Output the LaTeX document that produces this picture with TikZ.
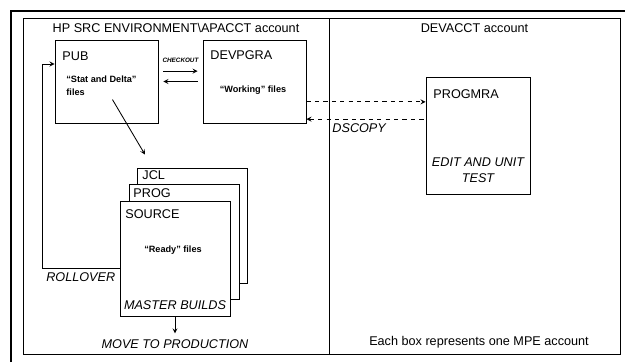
\documentclass[tikz,border=0pt]{standalone}
\usepackage{fontspec}
\setmainfont{Liberation Sans}
\usetikzlibrary{positioning}

\tikzset{
  acct/.style={draw,line width=0.6pt,inner sep=0pt,minimum height=8.4cm},
  dirbox/.style={draw,fill=white,line width=0.6pt,inner sep=0pt,minimum width=2.575cm,minimum height=2.075cm},
  libbox/.style={draw,fill=white,line width=0.6pt,inner sep=0pt,minimum width=2.75cm,minimum height=2.875cm},
  lbl/.style={font=\fontsize{9}{10}\selectfont,inner sep=0pt},
  ital/.style={font=\itshape\fontsize{9}{11.4}\selectfont,inner sep=0pt},
  note/.style={font=\bfseries\fontsize{6.5}{9}\selectfont,inner sep=0pt},
}

\begin{document}
\begin{tikzpicture}[x=0.025cm,y=-0.025cm,>=stealth,line width=0.6pt]
  \useasboundingbox (0,0) rectangle (625,362);
  \draw[line width=1.6pt] (11,362) -- (11,11) -- (625,11);

  % accounts
  \node[acct,minimum width=7.65cm] (hpsrc) at (176,186) {};
  \node[acct,minimum width=7.275cm] (devacct) at (474.5,186) {};
  \node[lbl] (hpsrctitle) at (176,28) {HP SRC ENVIRONMENT\textbackslash APACCT account};
  \node[lbl] (devaccttitle) at (474.5,28) {DEVACCT account};
  \node[lbl] (legend) at (479,342) {Each box represents one MPE account};

  % groups
  \node[dirbox] (pub) at (106.5,81.5) {};
  \node[dirbox] (devpgra) at (254.5,81.5) {};
  \node[dirbox,minimum width=2.6cm,minimum height=2.925cm] (progmra) at (478,135.5) {};
  \node[libbox] (jcl) at (192,225.5) {};
  \node[libbox] (prog) at (184,241.5) {};
  \node[libbox] (source) at (175,258.5) {};

  \node[lbl,anchor=west] (pubname) at (62,56) {PUB};
  \node[lbl,anchor=west] (devpgraname) at (210,55) {DEVPGRA};
  \node[lbl,anchor=west] (progmraname) at (433,94) {PROGMRA};
  \node[lbl,anchor=west] (jclname) at (142,175) {JCL};
  \node[lbl,anchor=west] (progname) at (133,193) {PROG};
  \node[lbl,anchor=west] (sourcename) at (125,214) {SOURCE};

  \node[note,anchor=west,align=left] (stat) at (66,85.5) {``Stat and Delta''\\files};
  \node[note] (working) at (253,90) {``Working'' files};
  \node[note] (ready) at (173,250) {``Ready'' files};
  \node[ital] (master) at (175,305) {MASTER BUILDS};
  \node[ital,align=center] (edit) at (478,170) {EDIT AND UNIT\\TEST};

  % checkout
  \draw[->,shorten <=3.5pt,shorten >=3.5pt] ([yshift=2.6mm]pub.east) -- node[above=6pt,font=\bfseries\itshape\fontsize{4.5}{5}\selectfont,inner sep=0pt] (checkout) {CHECKOUT} ([yshift=2.6mm]devpgra.west);
  \draw[<-,shorten <=3.5pt,shorten >=3.5pt] (pub.east) -- (devpgra.west);

  % dscopy
  \coordinate (dsout) at ([yshift=-5.1mm]devpgra.east);
  \coordinate (dsin) at ([yshift=-9.4mm]devpgra.east);
  \draw[->,dashed] (dsout) -- (dsout -| progmra.west);
  \draw[<-,dashed] (dsin) -- (dsin -| progmra.west);
  \node[ital,anchor=west] (dscopy) at (332,128) {DSCOPY};

  \draw[->] ([xshift=2.75mm,yshift=-1mm]stat.south) -- ([xshift=-11.75mm,yshift=3.25mm]jcl.north);

  % rollover
  \coordinate (roll) at (42,64);
  \draw[->] ([yshift=-2.4mm]source.west) -| node[pos=0.25,below=3.2pt,ital] (rollover) {ROLLOVER} (roll) -- (roll -| pub.west);

  \draw[->] (source.south) -- ++(0,17) node[below=4pt,ital] (move) {MOVE TO PRODUCTION};
\end{tikzpicture}
\end{document}
